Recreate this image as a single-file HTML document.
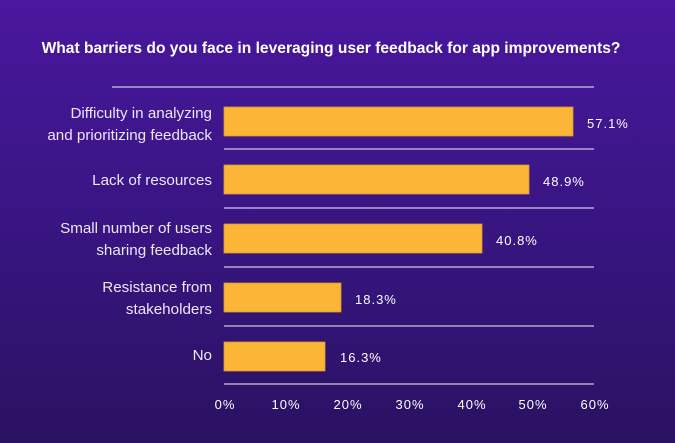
<!DOCTYPE html>
<html><head><meta charset="utf-8"><style>
html,body{margin:0;padding:0;}
body{width:675px;height:443px;overflow:hidden;background:linear-gradient(180deg,#4a179e 0%,#3a1585 45%,#2a1262 100%);}
svg{display:block;font-family:"Liberation Sans",sans-serif;}
</style></head><body>
<svg width="675" height="443" viewBox="0 0 675 443">
<text x="331" y="53" text-anchor="middle" fill="#fff" font-size="15.6" font-weight="bold">What barriers do you face in leveraging user feedback for app improvements?</text>
<g stroke="#b7a8d8" stroke-width="1.5">
<line x1="112" y1="87" x2="594" y2="87"/>
<line x1="224" y1="149" x2="594" y2="149"/>
<line x1="224" y1="208" x2="594" y2="208"/>
<line x1="224" y1="267" x2="594" y2="267"/>
<line x1="224" y1="326" x2="594" y2="326"/>
<line x1="224" y1="384" x2="594" y2="384"/>
</g>
<g fill="#fcb637" stroke="#d89a2a" stroke-width="0.8">
<rect x="224" y="107" width="349" height="29"/>
<rect x="224" y="165" width="305" height="29"/>
<rect x="224" y="224" width="258" height="29"/>
<rect x="224" y="283" width="117" height="29"/>
<rect x="224" y="342" width="101" height="29"/>
</g>
<g fill="#fff" font-size="13" letter-spacing="1">
<text x="587" y="128">57.1%</text>
<text x="543" y="186">48.9%</text>
<text x="496" y="245">40.8%</text>
<text x="355" y="304">18.3%</text>
<text x="340" y="362">16.3%</text>
</g>
<g fill="#ece6f6" font-size="15.2" text-anchor="end">
<text x="212" y="118">Difficulty in analyzing</text>
<text x="212" y="140">and prioritizing feedback</text>
<text x="212" y="185">Lack of resources</text>
<text x="212" y="233">Small number of users</text>
<text x="212" y="255">sharing feedback</text>
<text x="212" y="292">Resistance from</text>
<text x="212" y="314">stakeholders</text>
<text x="212" y="360">No</text>
</g>
<g fill="#fff" font-size="13" text-anchor="middle" letter-spacing="1">
<text x="225" y="409">0%</text>
<text x="286" y="409">10%</text>
<text x="348" y="409">20%</text>
<text x="410" y="409">30%</text>
<text x="472" y="409">40%</text>
<text x="533" y="409">50%</text>
<text x="595" y="409">60%</text>
</g>
</svg>
</body></html>
